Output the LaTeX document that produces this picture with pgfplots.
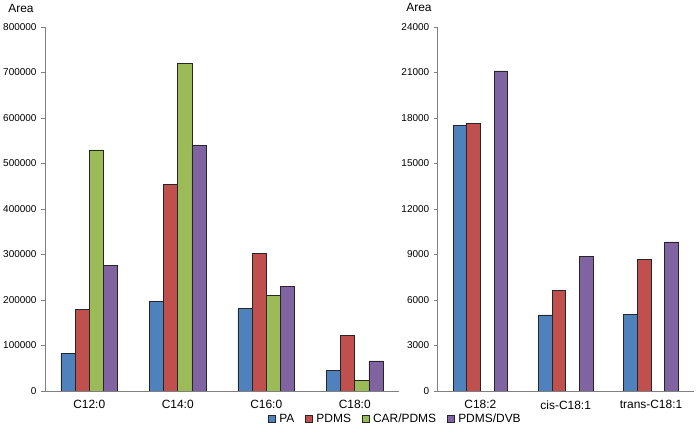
\documentclass[border=0pt]{standalone}
\usepackage{fontspec}
\setmainfont{Liberation Sans}
\usepackage{pgfplots}
\pgfplotsset{compat=1.18}
\definecolor{cPA}{HTML}{4F81BD}
\definecolor{cPDMS}{HTML}{C0504D}
\definecolor{cCAR}{HTML}{9BBB59}
\definecolor{cDVB}{HTML}{8064A2}
\definecolor{axgray}{HTML}{7F7F7F}
\pgfplotsset{
  mybase/.style={
    scale only axis,
    ybar, bar width=0.16, bar shift=0pt,
    axis x line=bottom, axis y line=left,
    axis line style={-, draw=axgray, line width=0.8pt},
    xmin=-0.5, xmax=3.5, ymin=0,
    xtick={0,1,2,3},
    x tick style={draw=none},
    y tick style={draw=axgray, line width=0.8pt},
    tick align=outside, major tick length=4bp,
    yticklabel style={font=\fontsize{10}{12}\selectfont, xshift=-1bp},
    xticklabel style={font=\fontsize{12}{14}\selectfont, yshift=-2bp},
    /pgf/number format/assume math mode=true,
    /pgf/number format/fixed, /pgf/number format/1000 sep={},
    scaled y ticks=false,
    every axis plot/.append style={draw=black!85, line width=0.7pt},
    legend image code/.code={\draw[#1, line width=0.6pt] (0bp,-3.5bp) rectangle (7bp,3.5bp);},
  }
}
\begin{document}
\begin{tikzpicture}
\path[use as bounding box] (0,0) rectangle (697bp,431bp);
\begin{axis}[mybase,
  at={(45bp,40bp)}, anchor=south west,
  width=354bp, height=364bp,
  ymax=800000, ytick={0,100000,...,800000},
  xticklabels={C12:0,C14:0,C16:0,C18:0},
  legend columns=4,
  legend style={at={(rel axis cs:0.99,-0.077)}, anchor=center, draw=none, fill=none,
    font=\fontsize{12}{14}\selectfont,
    /tikz/every odd column/.append style={column sep=1.5bp},
    /tikz/every even column/.append style={column sep=9bp},
    inner sep=0pt},
  legend cell align=left,
]
\addplot[fill=cPA] coordinates {(-0.24,83000) (0.76,196000) (1.76,182000) (2.76,45000)};
\addplot[fill=cPDMS] coordinates {(-0.08,180000) (0.92,454000) (1.92,303000) (2.92,122000)};
\addplot[fill=cCAR] coordinates {(0.08,530000) (1.08,720000) (2.08,210000) (3.08,23000)};
\addplot[fill=cDVB] coordinates {(0.24,276000) (1.24,540000) (2.24,230000) (3.24,66000)};
\legend{PA,PDMS,CAR/PDMS,PDMS/DVB}
\end{axis}
\begin{axis}[mybase,
  at={(437.7bp,40bp)}, anchor=south west,
  width=256bp, height=364bp,
  xmax=2.5,
  ymax=24000, ytick={0,3000,...,24000},
  xtick={0,1,2},
  xticklabels={C18:2,cis-C18:1,trans-C18:1},
]
\addplot[fill=cPA] coordinates {(-0.24,17500) (0.76,5020) (1.76,5040)};
\addplot[fill=cPDMS] coordinates {(-0.08,17660) (0.92,6640) (1.92,8670)};
\addplot[fill=cDVB] coordinates {(0.24,21100) (1.24,8870) (2.24,9830)};
\end{axis}
\node[font=\fontsize{12}{14}\selectfont] at (21bp,423bp) {Area};
\node[font=\fontsize{12}{14}\selectfont] at (419bp,424bp) {Area};
\end{tikzpicture}
\end{document}
